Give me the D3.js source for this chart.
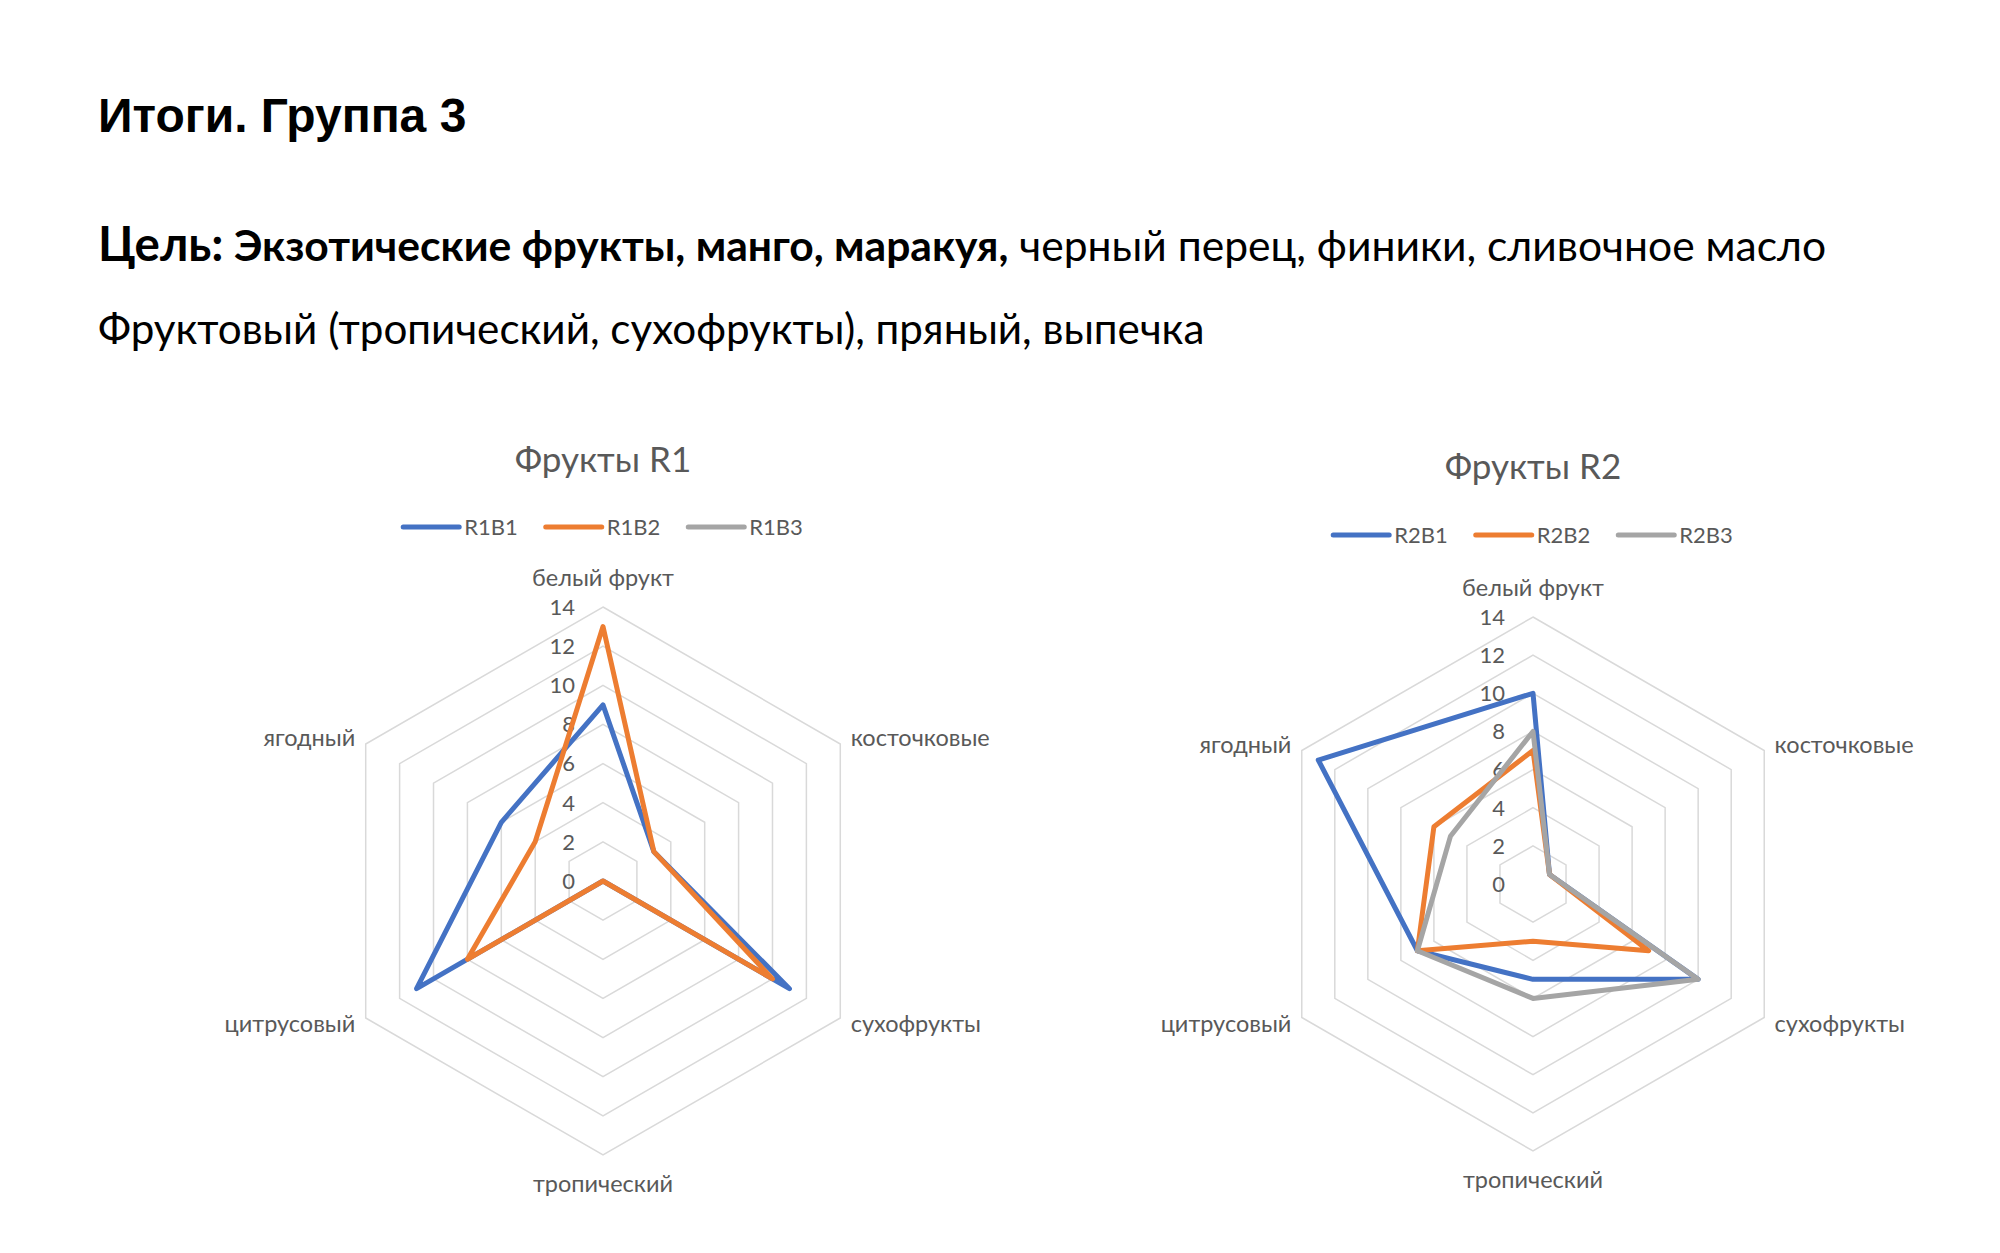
<!DOCTYPE html>
<html>
<head>
<meta charset="utf-8">
<script src="https://cdn.jsdelivr.net/npm/d3@7"></script>
<style>
  body { margin: 0; background: #fff; }
  text { font-family: Lato, "Open Sans", sans-serif; }
</style>
</head>
<body>
<svg id="slide" width="2000" height="1253"></svg>
<script>
// values
const categories = ["белый фрукт", "косточковые", "сухофрукты", "тропический", "цитрусовый", "ягодный"];
const tickValues = [0, 2, 4, 6, 8, 10, 12, 14];

const r1Names = ["R1B1", "R1B2", "R1B3"];
const r1b1 = [9, 3, 11, 0, 11, 6];
const r1b2 = [13, 3, 10, 0, 8, 4];
const r1b3 = [null, null, null, null, null, null]; // no visible line

const r2Names = ["R2B1", "R2B2", "R2B3"];
const r2b1 = [10, 1, 10, 5, 7, 13];
const r2b2 = [7, 1, 7, 3, 7, 6];
const r2b3 = [8, 1, 10, 6, 7, 5];

const colors = ["#4472C4", "#ED7D31", "#A5A5A5"];

const svg = d3.select("#slide");

// slide header
svg.append("text")
  .attr("x", 98).attr("y", 132)
  .style("font-family", "'Liberation Sans', Arial, sans-serif")
  .style("font-weight", "bold")
  .style("font-size", "48px")
  .attr("fill", "#000")
  .text("Итоги. Группа 3");

let goal = svg.append("text")
  .attr("x", 98).attr("y", 261)
  .attr("fill", "#000")
  .style("font-size", "42.6px");
goal.append("tspan").style("font-weight", "bold").style("font-size", "47.5px").text("Цель:");
goal.append("tspan").style("font-weight", "bold").text(" Экзотические фрукты, манго, маракуя,");
goal.append("tspan").text(" черный перец, финики, сливочное масло");

svg.append("text")
  .attr("x", 98).attr("y", 344)
  .attr("fill", "#000")
  .style("font-size", "42.2px")
  .text("Фруктовый (тропический, сухофрукты), пряный, выпечка");

function drawRadar(cfg) {
  let g = svg.append("g");
  let n = categories.length;
  let angle = d3.scaleLinear().domain([0, n]).range([0, 2 * Math.PI]);
  let rad = d3.scaleLinear().domain([0, 14]).range([0, cfg.R]);

  // hexagon grid
  let gridLine = d3.lineRadial()
    .angle((d, i) => angle(i))
    .radius(d => rad(d))
    .curve(d3.curveLinearClosed);

  g.selectAll(".grid")
    .data(tickValues.filter(t => t > 0))
    .enter()
    .append("path")
      .attr("transform", `translate(${cfg.cx},${cfg.cy})`)
      .attr("d", t => gridLine(categories.map(() => t)))
      .attr("fill", "none")
      .attr("stroke", "#d9d9d9")
      .attr("stroke-width", 1.5);

  // tick labels
  g.selectAll(".tick")
    .data(tickValues)
    .enter()
    .append("text")
      .attr("x", cfg.cx - 28)
      .attr("y", t => cfg.cy - rad(t))
      .attr("dy", "0.36em")
      .attr("text-anchor", "end")
      .attr("fill", "#595959")
      .style("font-size", "22px")
      .text(t => t);

  // category labels
  g.selectAll(".cat")
    .data(categories)
    .enter()
    .append("text")
      .attr("x", (d, i) => cfg.cx + (cfg.R + 12) * Math.sin(angle(i)))
      .attr("y", (d, i) => {
        let c = Math.cos(angle(i));
        let y = cfg.cy - (cfg.R + 12) * c;
        if (Math.abs(c) > 0.99) y -= c * 17;
        return y;
      })
      .attr("dy", "0.36em")
      .attr("text-anchor", (d, i) => {
        let s = Math.sin(angle(i));
        return s > 0.01 ? "start" : (s < -0.01 ? "end" : "middle");
      })
      .attr("fill", "#595959")
      .style("font-size", "23.5px")
      .text(d => d);

  // series
  let seriesLine = d3.lineRadial()
    .angle((d, i) => angle(i))
    .radius(d => rad(d))
    .defined(d => d != null)
    .curve(d3.curveLinearClosed);

  g.selectAll(".series")
    .data(cfg.series)
    .enter()
    .append("path")
      .attr("transform", `translate(${cfg.cx},${cfg.cy})`)
      .attr("d", d => seriesLine(d))
      .attr("fill", "none")
      .attr("stroke", (d, i) => colors[i])
      .attr("stroke-width", 5)
      .attr("stroke-linejoin", "round")
      .attr("stroke-linecap", "round");

  // title
  g.append("text")
    .attr("x", cfg.cx).attr("y", cfg.titleY)
    .attr("text-anchor", "middle")
    .attr("fill", "#595959")
    .style("font-size", "35px")
    .text(cfg.title);

  // legend
  let leg = g.append("g");
  let x = 0;
  cfg.names.forEach((name, i) => {
    leg.append("line")
      .attr("x1", x).attr("x2", x + 56)
      .attr("y1", cfg.legendY).attr("y2", cfg.legendY)
      .attr("stroke", colors[i])
      .attr("stroke-width", 5)
      .attr("stroke-linecap", "round");
    let t = leg.append("text")
      .attr("x", x + 61).attr("y", cfg.legendY)
      .attr("dy", "0.36em")
      .attr("fill", "#595959")
      .style("font-size", "22px")
      .text(name);
    x += 61 + t.node().getComputedTextLength() + 28;
  });
  let legW = x - 28;
  leg.attr("transform", `translate(${cfg.cx - legW / 2},0)`);
}

drawRadar({
  title: "Фрукты R1", names: r1Names, series: [r1b1, r1b2, r1b3],
  cx: 603, cy: 881, R: 274, titleY: 472, legendY: 527
});

drawRadar({
  title: "Фрукты R2", names: r2Names, series: [r2b1, r2b2, r2b3],
  cx: 1533, cy: 884, R: 267, titleY: 479, legendY: 535
});
</script>
</body>
</html>
